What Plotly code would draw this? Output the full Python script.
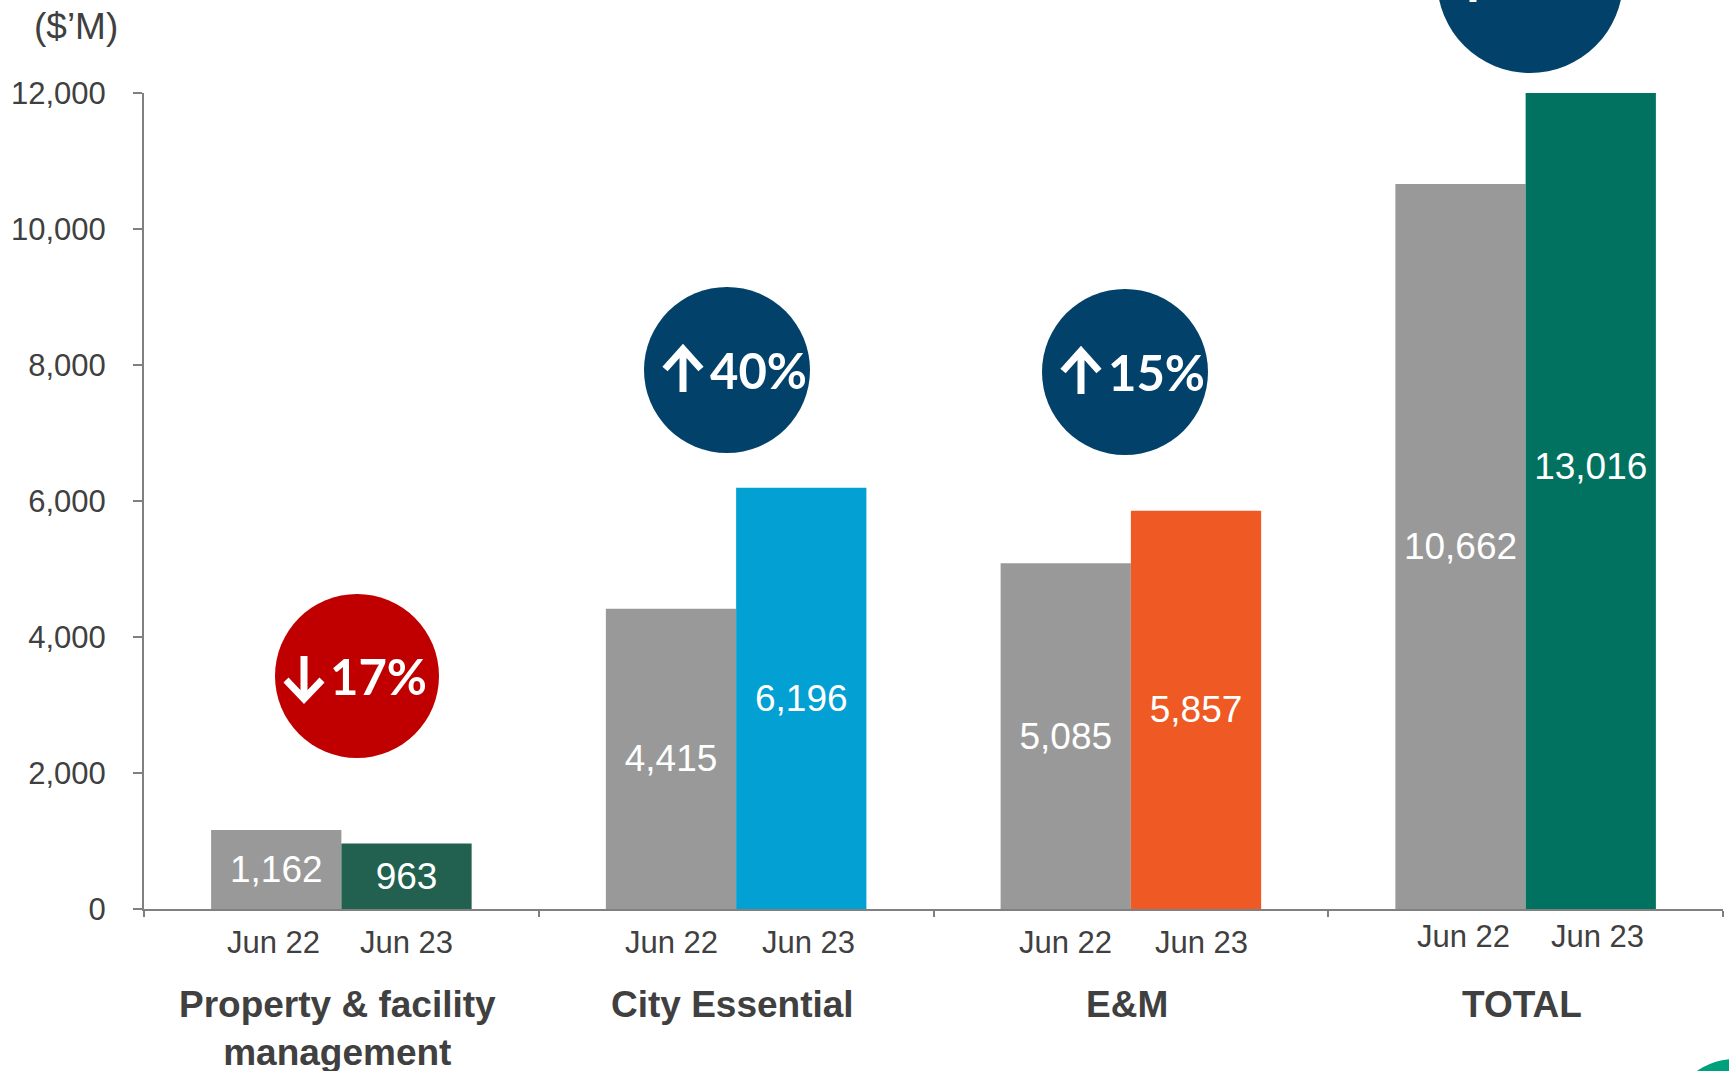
import plotly.graph_objects as go

# ---- data ----
categories = ["Property & facility<br>management", "City Essential", "E&M", "TOTAL"]
period_labels = ["Jun 22", "Jun 23"]
jun22 = [1162, 4415, 5085, 10662]
jun23 = [963, 6196, 5857, 13016]
change_dirs = ["down", "up", "up", "up"]
change_pcts = ["17%", "40%", "15%", "22%"]
y_ticks = [0, 2000, 4000, 6000, 8000, 10000, 12000]

# ---- style ----
W, H = 1729, 1071
L, R, T, B = 144, 1723, 93, 909
GREY = "#999999"
JUN23_COLORS = ["#22614F", "#03A0D3", "#EF5A24", "#00725F"]
CIRCLE_COLORS = ["#C00000", "#02416A", "#02416A", "#02416A"]
TEXT = "#404040"
FONT = "Liberation Sans, Arial, sans-serif"


def px(x):
    return (x - L) / (R - L)


def py(y):
    return (B - y) / (B - T)


def pt(x, y):
    return f"{px(x)},{py(y)}"


fig = go.Figure()
fig.add_trace(go.Bar(
    x=categories, y=jun22, name=period_labels[0],
    marker=dict(color=GREY, line=dict(width=0)),
    text=[f"{v:,}" for v in jun22], textposition="inside",
    insidetextanchor="middle", constraintext="none", textangle=0,
    textfont=dict(color="white", size=37, family=FONT),
))
fig.add_trace(go.Bar(
    x=categories, y=jun23, name=period_labels[1],
    marker=dict(color=JUN23_COLORS, line=dict(width=0)),
    text=[f"{v:,}" for v in jun23], textposition="inside",
    insidetextanchor="middle", constraintext="none", textangle=0,
    textfont=dict(color="white", size=37, family=FONT),
))

shapes = []
annotations = []

# change circles: centre, radius, arrow x offset, text x offset (pixels)
circles = [(357, 676, 82, -53, 21), (727, 370, 83, -44, 31),
           (1125, 372, 83, -44, 31), (1530, -20, 93, -57, 13)]
for (cx, cy, r, ax, tx), col, d, pct in zip(circles, CIRCLE_COLORS, change_dirs, change_pcts):
    shapes.append(dict(type="circle", xref="paper", yref="paper",
                       x0=px(cx - r), x1=px(cx + r), y0=py(cy + r), y1=py(cy - r),
                       fillcolor=col, line=dict(width=0), layer="above"))
    sx = cx + ax
    if d == "up":
        tip, tail, wy = (sx, cy - 21), (sx, cy + 22), cy - 1
    else:
        tip, tail, wy = (sx, cy + 23), (sx, cy - 20), cy + 4
    path = (f"M{pt(*tail)} L{pt(*tip)} "
            f"M{pt(sx - 18, wy)} L{pt(*tip)} L{pt(sx + 18, wy)}")
    shapes.append(dict(type="path", xref="paper", yref="paper", path=path,
                       line=dict(color="white", width=7), layer="above"))
    annotations.append(dict(xref="paper", yref="paper", x=px(cx + tx), y=py(cy),
                            text=f"<b>{pct}</b>", showarrow=False,
                            xanchor="center", yanchor="middle",
                            font=dict(color="white", size=49, family="Lato, Open Sans, sans-serif")))

# logo fragment bottom right
shapes.append(dict(type="circle", xref="paper", yref="paper",
                   x0=px(1735 - 66), x1=px(1735 + 66), y0=py(1125 + 66), y1=py(1125 - 66),
                   fillcolor="#00A07C", line=dict(width=0)))

# period labels under bars
period_y = [942, 942, 942, 936]
shift22 = [-68, -65, -65, -62]
shift23 = [65, 72, 71, 72]
for cat, yy, s22, s23 in zip(categories, period_y, shift22, shift23):
    for lab, sh in zip(period_labels, [s22, s23]):
        annotations.append(dict(xref="x", yref="paper", x=cat, xshift=sh, y=py(yy),
                                text=lab, showarrow=False, xanchor="center", yanchor="middle",
                                font=dict(color=TEXT, size=31, family=FONT)))

# category labels
for cat in categories:
    annotations.append(dict(xref="x", yref="paper", x=cat, xshift=-4, y=py(982),
                            text=f"<b>{cat}</b>", showarrow=False, xanchor="center",
                            yanchor="top", align="center",
                            font=dict(color=TEXT, size=37, family=FONT)))

# unit label
annotations.append(dict(xref="paper", yref="paper", x=px(76), y=py(26), text="($’M)",
                        showarrow=False, xanchor="center", yanchor="middle",
                        font=dict(color=TEXT, size=37, family=FONT)))

fig.update_layout(
    width=W, height=H,
    margin=dict(l=L, r=W - R, t=T, b=H - B, pad=0),
    paper_bgcolor="white", plot_bgcolor="white",
    barmode="group", bargap=0.34, bargroupgap=0,
    showlegend=False,
    shapes=shapes, annotations=annotations,
    font=dict(family=FONT, color=TEXT),
)
fig.update_xaxes(
    type="category", showticklabels=False, showgrid=False, zeroline=False,
    showline=True, linecolor="#808080", linewidth=2,
    ticks="outside", tickson="boundaries", ticklen=6, tickcolor="#808080", tickwidth=2,
    range=[-0.5, 3.5],
)
fig.update_yaxes(
    range=[0, 12000], tickvals=y_ticks, tickformat=",", showgrid=False, zeroline=False,
    showline=True, linecolor="#808080", linewidth=2,
    ticks="outside", ticklen=9, tickcolor="#808080", tickwidth=2,
    ticklabelstandoff=21,
    tickfont=dict(size=31, color=TEXT, family=FONT),
)

fig.write_html("out.html", config={"displayModeBar": False},
               post_script="document.body.style.margin='0px';")
